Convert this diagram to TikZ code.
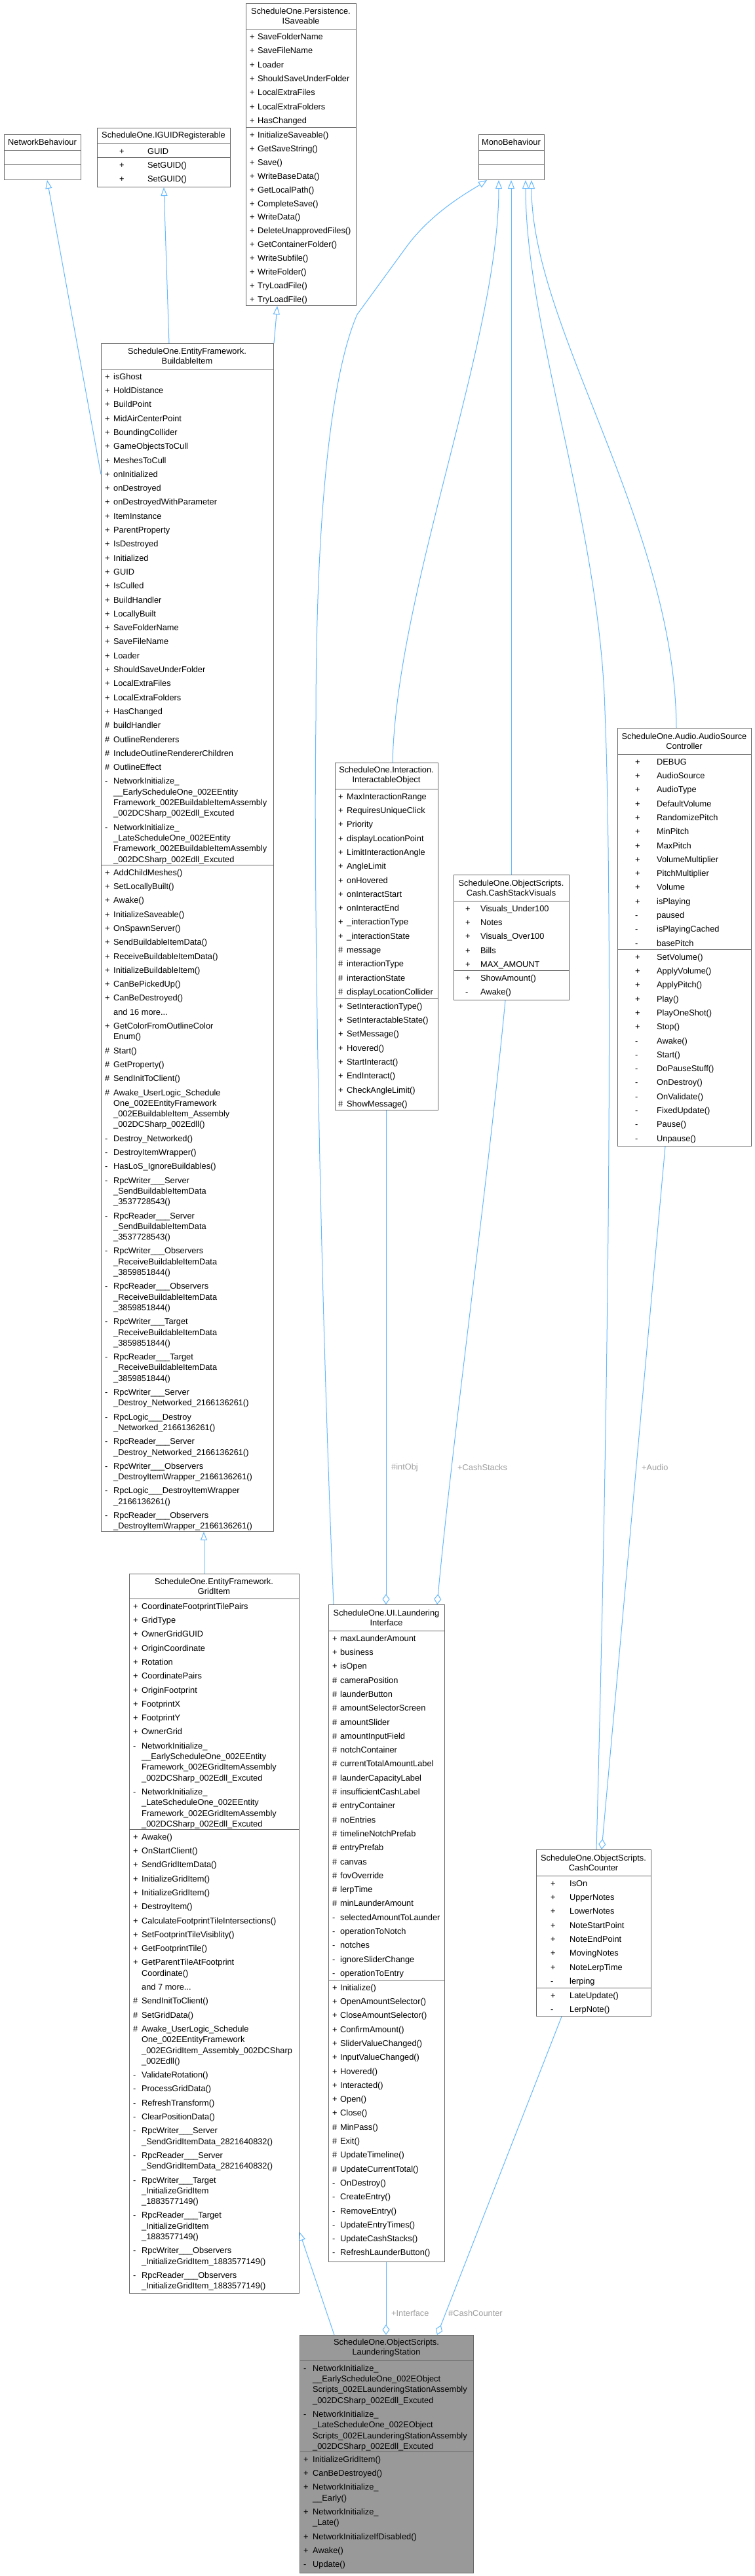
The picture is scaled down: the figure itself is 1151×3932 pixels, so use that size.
\documentclass[tikz,border=0pt]{standalone}
\usepackage{fontspec}
\setmainfont{Liberation Sans}
\usetikzlibrary{arrows.meta,calc}
\definecolor{edgeblue}{HTML}{63B8FF}
\definecolor{boxgray}{HTML}{666666}
\definecolor{hlgray}{HTML}{999999}
\definecolor{lblgray}{HTML}{A0A0A0}
\newlength\eg
\setlength\eg{5pt}
\newcommand\NE{\\[\eg]}
\newcommand\tbc[1]{\begin{tabular}{@{}p{#1}@{}l@{}}}
\newcommand\tbe{\end{tabular}}
\newcommand\umlbox[8][]{%
  \node[box,#1,anchor=north west,minimum width={#4-#2},minimum height={#5-#3}] (#8) at (#2,#3) {};
  \draw[div] (#2,#6) -- (#4,#6);
  \draw[div] (#2,#7) -- (#4,#7);}
\begin{document}
\catcode`\_=12
\begin{tikzpicture}[x=1pt,y=-1pt,
  box/.style={draw=boxgray,line width=1pt,fill=white,inner sep=0pt},
  div/.style={draw=boxgray,line width=1pt},
  hdr/.style={inner sep=0pt,align=center,font=\fontsize{12.8}{15}\selectfont},
  txt/.style={inner sep=0pt,anchor=north west,font=\fontsize{12.8}{16.3}\selectfont},
  inh/.style={draw=edgeblue,line width=1pt,-{Triangle[length=13pt,width=10pt,fill=white]}},
  agg/.style={draw=edgeblue,line width=1pt,-{Diamond[length=16pt,width=11pt,fill=white]}},
  lbl/.style={inner sep=0pt,anchor=west,text=lblgray,font=\fontsize{12.8}{15}\selectfont}]
\fill[white] (0,0) rectangle (1151,3932);
\useasboundingbox (0,0) rectangle (1151,3932);

% ---------------- NetworkBehaviour
\umlbox{6}{205}{123}{274}{229}{251}{nb}
\node[hdr] (nb-h) at (64.5,217) {NetworkBehaviour};

% ---------------- IGUIDRegisterable
\umlbox{148}{195}{351}{285}{219}{240}{ig}
\node[hdr] (ig-h) at (249.5,207) {ScheduleOne.IGUIDRegisterable};
\node[txt] (ig-a) at (182,223.6) {\tbc{43pt}+ & GUID\tbe};
\node[txt] (ig-m) at (182,244.6) {\tbc{43pt}+ & SetGUID()\NE + & SetGUID()\tbe};

% ---------------- ISaveable
\umlbox{375}{5}{543}{466}{44.3}{194.3}{isa}
\node[hdr] (isa-h) at (459,24.5) {ScheduleOne.Persistence.\\ISaveable};
\node[txt] (isa-a) at (381,48.9) {\tbc{12pt}
+ & SaveFolderName\NE
+ & SaveFileName\NE
+ & Loader\NE
+ & ShouldSaveUnderFolder\NE
+ & LocalExtraFiles\NE
+ & LocalExtraFolders\NE
+ & HasChanged\tbe};
\node[txt] (isa-m) at (381,198.9) {\setlength\eg{4.6pt}\tbc{12pt}
+ & InitializeSaveable()\NE
+ & GetSaveString()\NE
+ & Save()\NE
+ & WriteBaseData()\NE
+ & GetLocalPath()\NE
+ & CompleteSave()\NE
+ & WriteData()\NE
+ & DeleteUnapprovedFiles()\NE
+ & GetContainerFolder()\NE
+ & WriteSubfile()\NE
+ & WriteFolder()\NE
+ & TryLoadFile()\NE
+ & TryLoadFile()\tbe};

% ---------------- MonoBehaviour
\umlbox{730}{205}{830}{274}{229}{251}{mb}
\node[hdr] (mb-h) at (780,217) {MonoBehaviour};

% ---------------- BuildableItem
\umlbox{154}{524}{417}{2337}{563}{1320}{bi}
\node[hdr] (bi-h) at (285.5,543.5) {ScheduleOne.EntityFramework.\\BuildableItem};
\node[txt] (bi-a) at (160,567.6) {\tbc{13pt}
+ & isGhost\NE
+ & HoldDistance\NE
+ & BuildPoint\NE
+ & MidAirCenterPoint\NE
+ & BoundingCollider\NE
+ & GameObjectsToCull\NE
+ & MeshesToCull\NE
+ & onInitialized\NE
+ & onDestroyed\NE
+ & onDestroyedWithParameter\NE
+ & ItemInstance\NE
+ & ParentProperty\NE
+ & IsDestroyed\NE
+ & Initialized\NE
+ & GUID\NE
+ & IsCulled\NE
+ & BuildHandler\NE
+ & LocallyBuilt\NE
+ & SaveFolderName\NE
+ & SaveFileName\NE
+ & Loader\NE
+ & ShouldSaveUnderFolder\NE
+ & LocalExtraFiles\NE
+ & LocalExtraFolders\NE
+ & HasChanged\NE
\# & buildHandler\NE
\# & OutlineRenderers\NE
\# & IncludeOutlineRendererChildren\NE
\# & OutlineEffect\NE
- & NetworkInitialize_\\ & __EarlyScheduleOne_002EEntity\\ & Framework_002EBuildableItemAssembly\\ & _002DCSharp_002Edll_Excuted\NE
- & NetworkInitialize_\\ & _LateScheduleOne_002EEntity\\ & Framework_002EBuildableItemAssembly\\ & _002DCSharp_002Edll_Excuted\tbe};
\node[txt] (bi-m) at (160,1324.6) {\tbc{13pt}
+ & AddChildMeshes()\NE
+ & SetLocallyBuilt()\NE
+ & Awake()\NE
+ & InitializeSaveable()\NE
+ & OnSpawnServer()\NE
+ & SendBuildableItemData()\NE
+ & ReceiveBuildableItemData()\NE
+ & InitializeBuildableItem()\NE
+ & CanBePickedUp()\NE
+ & CanBeDestroyed()\NE
 & and 16 more...\NE
+ & GetColorFromOutlineColor\\ & Enum()\NE
\# & Start()\NE
\# & GetProperty()\NE
\# & SendInitToClient()\NE
\# & Awake_UserLogic_Schedule\\ & One_002EEntityFramework\\ & _002EBuildableItem_Assembly\\ & _002DCSharp_002Edll()\NE
- & Destroy_Networked()\NE
- & DestroyItemWrapper()\NE
- & HasLoS_IgnoreBuildables()\NE
- & RpcWriter___Server\\ & _SendBuildableItemData\\ & _3537728543()\NE
- & RpcReader___Server\\ & _SendBuildableItemData\\ & _3537728543()\NE
- & RpcWriter___Observers\\ & _ReceiveBuildableItemData\\ & _3859851844()\NE
- & RpcReader___Observers\\ & _ReceiveBuildableItemData\\ & _3859851844()\NE
- & RpcWriter___Target\\ & _ReceiveBuildableItemData\\ & _3859851844()\NE
- & RpcReader___Target\\ & _ReceiveBuildableItemData\\ & _3859851844()\NE
- & RpcWriter___Server\\ & _Destroy_Networked_2166136261()\NE
- & RpcLogic___Destroy\\ & _Networked_2166136261()\NE
- & RpcReader___Server\\ & _Destroy_Networked_2166136261()\NE
- & RpcWriter___Observers\\ & _DestroyItemWrapper_2166136261()\NE
- & RpcLogic___DestroyItemWrapper\\ & _2166136261()\NE
- & RpcReader___Observers\\ & _DestroyItemWrapper_2166136261()\tbe};

% ---------------- InteractableObject
\umlbox{511}{1164}{668}{1694}{1204}{1524}{io}
\node[hdr] (io-h) at (589.5,1184) {ScheduleOne.Interaction.\\InteractableObject};
\node[txt] (io-a) at (516,1208.6) {\tbc{13pt}
+ & MaxInteractionRange\NE
+ & RequiresUniqueClick\NE
+ & Priority\NE
+ & displayLocationPoint\NE
+ & LimitInteractionAngle\NE
+ & AngleLimit\NE
+ & onHovered\NE
+ & onInteractStart\NE
+ & onInteractEnd\NE
+ & _interactionType\NE
+ & _interactionState\NE
\# & message\NE
\# & interactionType\NE
\# & interactionState\NE
\# & displayLocationCollider\tbe};
\node[txt] (io-m) at (516,1528.6) {\tbc{13pt}
+ & SetInteractionType()\NE
+ & SetInteractableState()\NE
+ & SetMessage()\NE
+ & Hovered()\NE
+ & StartInteract()\NE
+ & EndInteract()\NE
+ & CheckAngleLimit()\NE
\# & ShowMessage()\tbe};

% ---------------- CashStackVisuals
\umlbox{692}{1335}{868}{1526}{1375}{1481}{csv}
\node[hdr] (csv-h) at (780,1355) {ScheduleOne.ObjectScripts.\\Cash.CashStackVisuals};
\node[txt] (csv-a) at (710,1379.6) {\tbc{23pt}
+ & Visuals_Under100\NE
+ & Notes\NE
+ & Visuals_Over100\NE
+ & Bills\NE
+ & MAX_AMOUNT\tbe};
\node[txt] (csv-m) at (710,1485.6) {\tbc{23pt}
+ & ShowAmount()\NE
- & Awake()\tbe};

% ---------------- AudioSourceController
\umlbox{942}{1111}{1146}{1749}{1151}{1449}{au}
\node[hdr] (au-h) at (1044,1131) {ScheduleOne.Audio.AudioSource\\Controller};
\node[txt] (au-a) at (969,1155.6) {\tbc{33pt}
+ & DEBUG\NE
+ & AudioSource\NE
+ & AudioType\NE
+ & DefaultVolume\NE
+ & RandomizePitch\NE
+ & MinPitch\NE
+ & MaxPitch\NE
+ & VolumeMultiplier\NE
+ & PitchMultiplier\NE
+ & Volume\NE
+ & isPlaying\NE
- & paused\NE
- & isPlayingCached\NE
- & basePitch\tbe};
\node[txt] (au-m) at (969,1453.6) {\tbc{33pt}
+ & SetVolume()\NE
+ & ApplyVolume()\NE
+ & ApplyPitch()\NE
+ & Play()\NE
+ & PlayOneShot()\NE
+ & Stop()\NE
- & Awake()\NE
- & Start()\NE
- & DoPauseStuff()\NE
- & OnDestroy()\NE
- & OnValidate()\NE
- & FixedUpdate()\NE
- & Pause()\NE
- & Unpause()\tbe};

% ---------------- GridItem
\umlbox{197}{2402}{456}{3500}{2440}{2792}{gi}
\node[hdr] (gi-h) at (326.5,2421) {ScheduleOne.EntityFramework.\\GridItem};
\node[txt] (gi-a) at (203,2444.6) {\tbc{13pt}
+ & CoordinateFootprintTilePairs\NE
+ & GridType\NE
+ & OwnerGridGUID\NE
+ & OriginCoordinate\NE
+ & Rotation\NE
+ & CoordinatePairs\NE
+ & OriginFootprint\NE
+ & FootprintX\NE
+ & FootprintY\NE
+ & OwnerGrid\NE
- & NetworkInitialize_\\ & __EarlyScheduleOne_002EEntity\\ & Framework_002EGridItemAssembly\\ & _002DCSharp_002Edll_Excuted\NE
- & NetworkInitialize_\\ & _LateScheduleOne_002EEntity\\ & Framework_002EGridItemAssembly\\ & _002DCSharp_002Edll_Excuted\tbe};
\node[txt] (gi-m) at (203,2796.6) {\tbc{13pt}
+ & Awake()\NE
+ & OnStartClient()\NE
+ & SendGridItemData()\NE
+ & InitializeGridItem()\NE
+ & InitializeGridItem()\NE
+ & DestroyItem()\NE
+ & CalculateFootprintTileIntersections()\NE
+ & SetFootprintTileVisiblity()\NE
+ & GetFootprintTile()\NE
+ & GetParentTileAtFootprint\\ & Coordinate()\NE
 & and 7 more...\NE
\# & SendInitToClient()\NE
\# & SetGridData()\NE
\# & Awake_UserLogic_Schedule\\ & One_002EEntityFramework\\ & _002EGridItem_Assembly_002DCSharp\\ & _002Edll()\NE
- & ValidateRotation()\NE
- & ProcessGridData()\NE
- & RefreshTransform()\NE
- & ClearPositionData()\NE
- & RpcWriter___Server\\ & _SendGridItemData_2821640832()\NE
- & RpcReader___Server\\ & _SendGridItemData_2821640832()\NE
- & RpcWriter___Target\\ & _InitializeGridItem\\ & _1883577149()\NE
- & RpcReader___Target\\ & _InitializeGridItem\\ & _1883577149()\NE
- & RpcWriter___Observers\\ & _InitializeGridItem_1883577149()\NE
- & RpcReader___Observers\\ & _InitializeGridItem_1883577149()\tbe};

% ---------------- LaunderingInterface
\umlbox{501}{2449}{678}{3452}{2489}{3022}{li}
\node[hdr] (li-h) at (589.5,2469) {ScheduleOne.UI.Laundering\\Interface};
\node[txt] (li-a) at (507,2493.6) {\tbc{12pt}
+ & maxLaunderAmount\NE
+ & business\NE
+ & isOpen\NE
\# & cameraPosition\NE
\# & launderButton\NE
\# & amountSelectorScreen\NE
\# & amountSlider\NE
\# & amountInputField\NE
\# & notchContainer\NE
\# & currentTotalAmountLabel\NE
\# & launderCapacityLabel\NE
\# & insufficientCashLabel\NE
\# & entryContainer\NE
\# & noEntries\NE
\# & timelineNotchPrefab\NE
\# & entryPrefab\NE
\# & canvas\NE
\# & fovOverride\NE
\# & lerpTime\NE
\# & minLaunderAmount\NE
- & selectedAmountToLaunder\NE
- & operationToNotch\NE
- & notches\NE
- & ignoreSliderChange\NE
- & operationToEntry\tbe};
\node[txt] (li-m) at (507,3026.6) {\tbc{12pt}
+ & Initialize()\NE
+ & OpenAmountSelector()\NE
+ & CloseAmountSelector()\NE
+ & ConfirmAmount()\NE
+ & SliderValueChanged()\NE
+ & InputValueChanged()\NE
+ & Hovered()\NE
+ & Interacted()\NE
+ & Open()\NE
+ & Close()\NE
\# & MinPass()\NE
\# & Exit()\NE
\# & UpdateTimeline()\NE
\# & UpdateCurrentTotal()\NE
- & OnDestroy()\NE
- & CreateEntry()\NE
- & RemoveEntry()\NE
- & UpdateEntryTimes()\NE
- & UpdateCashStacks()\NE
- & RefreshLaunderButton()\tbe};

% ---------------- CashCounter
\umlbox{818}{2823}{993}{3077}{2863}{3034}{cc}
\node[hdr] (cc-h) at (905.5,2843) {ScheduleOne.ObjectScripts.\\CashCounter};
\node[txt] (cc-a) at (840,2867.6) {\tbc{29pt}
+ & IsOn\NE
+ & UpperNotes\NE
+ & LowerNotes\NE
+ & NoteStartPoint\NE
+ & NoteEndPoint\NE
+ & MovingNotes\NE
+ & NoteLerpTime\NE
- & lerping\tbe};
\node[txt] (cc-m) at (840,3038.6) {\tbc{29pt}
+ & LateUpdate()\NE
- & LerpNote()\tbe};

% ---------------- LaunderingStation
\umlbox[fill=hlgray]{457}{3564}{722}{3927}{3603}{3742}{st}
\node[hdr] (st-h) at (589.5,3583.5) {ScheduleOne.ObjectScripts.\\LaunderingStation};
\node[txt] (st-a) at (463,3607.6) {\tbc{14pt}
- & NetworkInitialize_\\ & __EarlyScheduleOne_002EObject\\ & Scripts_002ELaunderingStationAssembly\\ & _002DCSharp_002Edll_Excuted\NE
- & NetworkInitialize_\\ & _LateScheduleOne_002EObject\\ & Scripts_002ELaunderingStationAssembly\\ & _002DCSharp_002Edll_Excuted\tbe};
\node[txt] (st-m) at (463,3746.6) {\tbc{14pt}
+ & InitializeGridItem()\NE
+ & CanBeDestroyed()\NE
+ & NetworkInitialize_\\ & __Early()\NE
+ & NetworkInitialize_\\ & _Late()\NE
+ & NetworkInitializeIfDisabled()\NE
+ & Awake()\NE
- & Update()\tbe};

% ---------------- inheritance
\draw[inh] ($(bi.north west)+(0,200)$) -- ($(nb.south west)+(66,0)$);
\draw[inh] ($(bi.north west)+(104,0)$) -- ($(ig.south west)+(102,0)$);
\draw[inh] (bi.north east) -- ($(isa.south west)+(48,0)$);
\draw[inh] ($(gi.north west)+(114,0)$) -- ($(bi.south west)+(157,0)$);
\draw[inh] ($(st.north west)+(53,0)$) -- ($(gi.north east)+(0,1005)$);
\draw[inh] ($(io.north west)+(88,0)$) .. controls (605,900) and (761,520) .. ($(mb.south west)+(31,0)$);
\draw[inh] ($(csv.north west)+(88,0)$) -- ($(mb.south west)+(50,0)$);
\draw[inh] ($(cc.north west)+(92,0)$) .. controls (935,1900) and (932,1300) .. (923,1085) .. controls (915,800) and (802,500) .. ($(mb.south west)+(72,0)$);
\draw[inh] ($(au.north west)+(90,0)$) .. controls (1030,800) and (811,500) .. ($(mb.south west)+(81,0)$);
\draw[inh] ($(li.north west)+(8,0)$) .. controls (490,2000) and (478,1400) .. (482,1100) .. controls (482,750) and (510,560) .. (545,480) -- (620,377) .. controls (660,322) and (720,290) .. ($(mb.south west)+(13,0)$);

% ---------------- aggregation
\draw[agg] ($(io.south west)+(78,0)$) -- ($(li.north west)+(88,0)$);
\draw[agg] ($(csv.south west)+(79,0)$) .. controls (745,1800) and (690,2200) .. ($(li.north west)+(166,0)$);
\draw[agg] ($(au.south west)+(73,0)$) -- ($(cc.north west)+(100,0)$);
\draw[agg] ($(li.south west)+(88,0)$) -- ($(st.north west)+(132,0)$);
\draw[agg] ($(cc.south west)+(39,0)$) -- ($(st.north west)+(210,0)$);

% ---------------- labels
\node[lbl] (l-int) at (597,2240) {\#intObj};
\node[lbl] (l-cs) at (698,2240) {+CashStacks};
\node[lbl] (l-au) at (979,2240) {+Audio};
\node[lbl] (l-if) at (597,3531) {+Interface};
\node[lbl] (l-cc) at (684,3531) {\#CashCounter};
\end{tikzpicture}
\end{document}
